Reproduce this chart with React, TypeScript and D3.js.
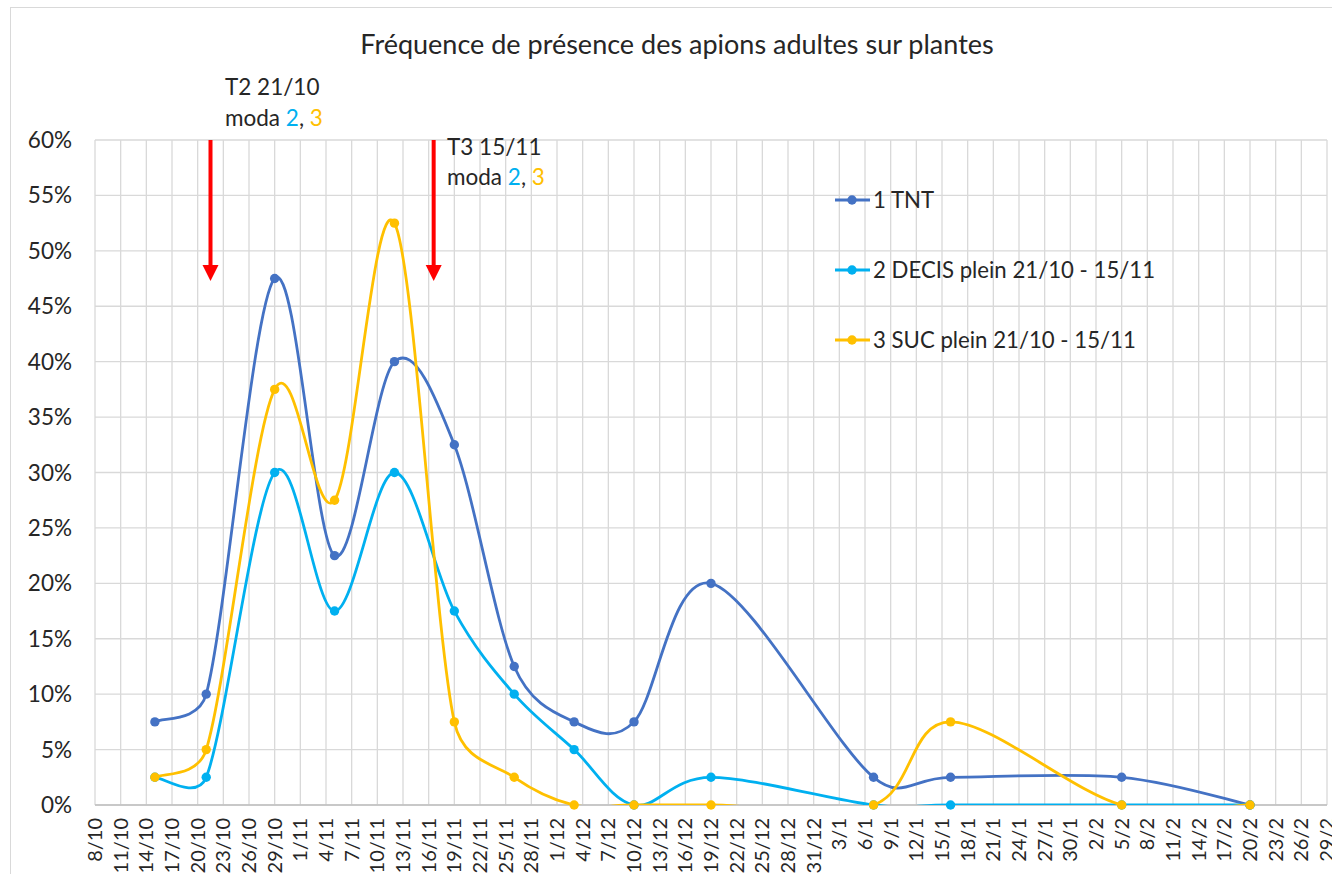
import React, { useEffect, useRef } from "react";
import * as d3 from "d3";

// sampling dates (x) and % of plants with adult apions (y)
const sampleDates = ["2019-10-15", "2019-10-21", "2019-10-29", "2019-11-05", "2019-11-12", "2019-11-19", "2019-11-26",
    "2019-12-03", "2019-12-10", "2019-12-19", "2020-01-07", "2020-01-16", "2020-02-05", "2020-02-20"];
const seriesNames = ["1 TNT", "2 DECIS plein 21/10 - 15/11", "3 SUC plein 21/10 - 15/11"];
const tntValues = [7.5, 10, 47.5, 22.5, 40, 32.5, 12.5, 7.5, 7.5, 20, 2.5, 2.5, 2.5, 0];
const decisValues = [2.5, 2.5, 30, 17.5, 30, 17.5, 10, 5, 0, 2.5, 0, 0, 0, 0];
const sucValues = [2.5, 5, 37.5, 27.5, 52.5, 7.5, 2.5, 0, 0, 0, 0, 7.5, 0, 0];
const seriesColors = ["#4472C4", "#00B0F0", "#FFC000"];

const axisDomain = ["2019-10-08", "2020-02-29"];
const yTicks = [0, 5, 10, 15, 20, 25, 30, 35, 40, 45, 50, 55, 60];

// treatment arrows
const treatmentLabels = ["T2 21/10", "T3 15/11"];
const treatmentDates = ["2019-10-21T12:00", "2019-11-16T14:00"];

const FONT = "Lato, 'Open Sans', sans-serif";
const TEXT = "#262626";

// spreadsheet-like smoothed line: catmull-rom bezier, handles capped at half the segment
class SmoothCurve {
    _context: any;
    _pts: number[][] = [];
    constructor(context: any) { this._context = context; }
    areaStart() {}
    areaEnd() {}
    lineStart() { this._pts = []; }
    point(x: number, y: number) { this._pts.push([+x, +y]); }
    lineEnd() {
        const p = this._pts, n = p.length, ctx = this._context;
        if (!n) return;
        ctx.moveTo(p[0][0], p[0][1]);
        for (let i = 0; i < n - 1; i++) {
            const p0 = p[Math.max(i - 1, 0)], p1 = p[i], p2 = p[i + 1], p3 = p[Math.min(i + 2, n - 1)];
            const d12 = Math.hypot(p2[0] - p1[0], p2[1] - p1[1]);
            const f = (a: number[], b: number[]) => {
                const d = Math.hypot(b[0] - a[0], b[1] - a[1]);
                return d > 0 && d / 6 > d12 / 2 ? d12 / (2 * d) : 1 / 6;
            };
            const f1 = f(p0, p2), f2 = f(p1, p3);
            ctx.bezierCurveTo(
                p1[0] + f1 * (p2[0] - p0[0]), p1[1] + f1 * (p2[1] - p0[1]),
                p2[0] - f2 * (p3[0] - p1[0]), p2[1] - f2 * (p3[1] - p1[1]),
                p2[0], p2[1]);
        }
    }
}
const curveSmooth = (context: any) => new SmoothCurve(context);

export default function App() {
    const ref = useRef<SVGSVGElement>(null);

    useEffect(() => {
        const width = 1332, height = 874;
        const plot = { left: 95, top: 140, right: 1327, bottom: 805 };
        const parse = d3.utcParse("%Y-%m-%d");
        const parseT = d3.utcParse("%Y-%m-%dT%H:%M");
        const start = parse(axisDomain[0])!, end = parse(axisDomain[1])!;

        const x = d3.scaleUtc().domain([start, end]).range([plot.left, plot.right]);
        const y = d3.scaleLinear().domain([0, 60]).range([plot.bottom, plot.top]);
        const xTicks = d3.utcDay.range(start, d3.utcDay.offset(end, 1), 3);
        const fmt = d3.utcFormat("%-d/%-m");

        const svg = d3.select(ref.current);
        svg.selectAll("*").remove();

        svg.append("rect")
            .attr("width", width).attr("height", height).attr("fill", "#fff");
        // chart border
        svg.append("rect")
            .attr("x", 10.5).attr("y", 7.5)
            .attr("width", 1400).attr("height", 1000)
            .attr("fill", "none").attr("stroke", "#d9d9d9");

        svg.append("defs").append("clipPath").attr("id", "plotclip")
            .append("rect")
            .attr("x", plot.left).attr("y", plot.top)
            .attr("width", plot.right - plot.left).attr("height", plot.bottom - plot.top);

        // grid
        const grid = svg.append("g").attr("stroke", "#d9d9d9").attr("stroke-width", 1.3);
        grid.selectAll("line.h").data(yTicks).enter().append("line")
            .attr("x1", plot.left).attr("x2", plot.right)
            .attr("y1", d => y(d)).attr("y2", d => y(d));
        grid.selectAll("line.v").data(xTicks).enter().append("line")
            .attr("x1", d => x(d)).attr("x2", d => x(d))
            .attr("y1", plot.top).attr("y2", plot.bottom);
        svg.append("line")
            .attr("x1", plot.left).attr("x2", plot.right)
            .attr("y1", plot.bottom).attr("y2", plot.bottom)
            .attr("stroke", "#bfbfbf").attr("stroke-width", 1.3);

        // y labels
        svg.append("g").selectAll("text").data(yTicks).enter().append("text")
            .attr("x", 72).attr("y", d => y(d) + 8)
            .attr("text-anchor", "end")
            .attr("font-family", FONT).attr("font-size", 22.5).attr("fill", TEXT)
            .text(d => d + "%");

        // x labels, rotated
        svg.append("g").selectAll("text").data(xTicks).enter().append("text")
            .attr("transform", d => `translate(${x(d) + 7},818) rotate(-90)`)
            .attr("text-anchor", "end")
            .attr("font-family", FONT).attr("font-size", 20).attr("fill", TEXT)
            .text(d => fmt(d));

        // title
        svg.append("text")
            .attr("x", 677).attr("y", 54)
            .attr("text-anchor", "middle")
            .attr("font-family", FONT).attr("font-size", 27).attr("fill", TEXT)
            .text("Fréquence de présence des apions adultes sur plantes");

        // series
        const dates = sampleDates.map(d => parse(d)!);
        const allSeries = [tntValues, decisValues, sucValues];
        const line = d3.line<number>()
            .x((d, i) => x(dates[i]))
            .y(d => y(d))
            .curve(curveSmooth as any);

        allSeries.forEach((vals, si) => {
            svg.append("path")
                .attr("clip-path", "url(#plotclip)")
                .attr("d", line(vals))
                .attr("fill", "none")
                .attr("stroke", seriesColors[si])
                .attr("stroke-width", 2.8)
                .attr("stroke-linejoin", "round");
            svg.append("g").selectAll("circle").data(vals).enter().append("circle")
                .attr("cx", (d, i) => x(dates[i]))
                .attr("cy", d => y(d))
                .attr("r", 4.7)
                .attr("fill", seriesColors[si]);
        });

        // legend
        const legend = svg.append("g");
        seriesNames.forEach((name, i) => {
            const ly = 200 + i * 70;
            legend.append("line")
                .attr("x1", 835).attr("x2", 870).attr("y1", ly).attr("y2", ly)
                .attr("stroke", seriesColors[i]).attr("stroke-width", 2.8);
            legend.append("circle")
                .attr("cx", 852).attr("cy", ly).attr("r", 4.7).attr("fill", seriesColors[i]);
            legend.append("text")
                .attr("x", 873).attr("y", ly + 8)
                .attr("font-family", FONT).attr("font-size", 22.2).attr("fill", TEXT)
                .text(name);
        });

        // treatment arrows + notes
        const notePos = [{ x: 225, y: 95, gap: 31 }, { x: 447, y: 155, gap: 30 }];
        treatmentDates.forEach((td, i) => {
            const ax = x(parseT(td)!);
            svg.append("rect")
                .attr("x", ax - 2).attr("y", plot.top)
                .attr("width", 4).attr("height", 127)
                .attr("fill", "#FF0000");
            svg.append("path")
                .attr("d", `M${ax - 8},265 L${ax + 8},265 L${ax},281 Z`)
                .attr("fill", "#FF0000");

            const t = svg.append("text")
                .attr("font-family", FONT).attr("font-size", 22.5).attr("fill", TEXT);
            t.append("tspan").attr("x", notePos[i].x).attr("y", notePos[i].y).text(treatmentLabels[i]);
            const t2 = t.append("tspan").attr("x", notePos[i].x).attr("y", notePos[i].y + notePos[i].gap);
            t2.append("tspan").text("moda ");
            t2.append("tspan").attr("fill", seriesColors[1]).text("2");
            t2.append("tspan").text(", ");
            t2.append("tspan").attr("fill", seriesColors[2]).text("3");
        });
    }, []);

    return (
        <svg ref={ref} width={1332} height={874}
            style={{ position: "absolute", left: 0, top: 0, display: "block" }} />
    );
}
